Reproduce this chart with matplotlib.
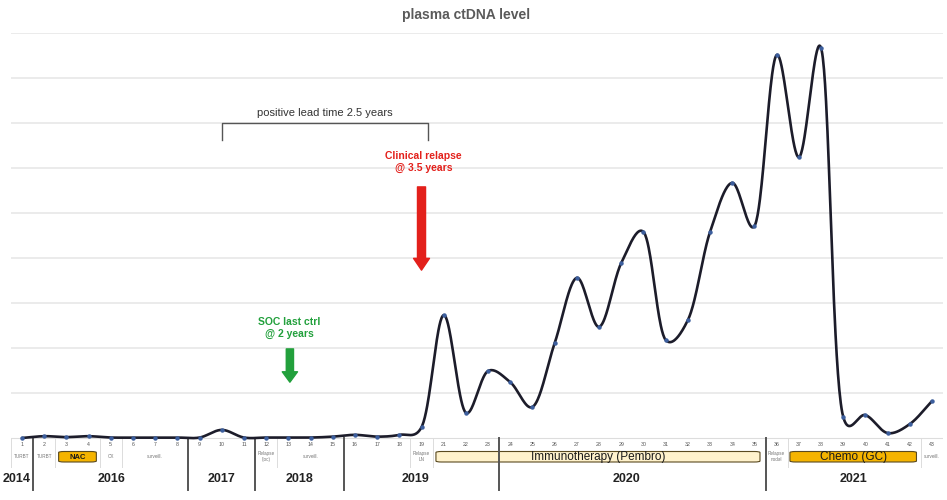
import numpy as np
import matplotlib
matplotlib.use("Agg")
import matplotlib.pyplot as plt
from matplotlib.patches import FancyBboxPatch

plt.rcParams['font.family'] = ['Liberation Sans', 'DejaVu Sans']

# ---------------- data ----------------
point_labels = list(range(1, 20)) + list(range(21, 44))
ctdna = [0.0, 0.04, 0.02, 0.04, 0.01, 0.01, 0.01, 0.01, 0.01, 0.18,
         0.01, 0.01, 0.01, 0.01, 0.03, 0.07, 0.03, 0.07, 0.24, 2.73,
         0.56, 1.49, 1.24, 0.69, 2.11, 3.56, 2.47, 3.89, 4.58, 2.18,
         2.62, 4.58, 5.67, 4.71, 8.51, 6.24, 8.67, 0.47, 0.51, 0.11,
         0.31, 0.82]
years = ["2014", "2016", "2017", "2018", "2019", "2020", "2021"]
year_pos = [0.75, 5.05, 10.0, 13.5, 18.75, 28.25, 38.45]
year_breaks = [1.5, 8.5, 11.5, 15.5, 22.5, 34.5]
cell_breaks = [0.5, 2.5, 4.5, 5.5, 12.5, 18.5, 19.5, 35.5, 41.5, 42.5]
event_text = ["TURBT", "TURBT", "CX", "surveill.", "Relapse\n(loc)", "surveill.",
              "Relapse\nLN", "Relapse\nnodal", "surveill."]
event_pos = [1, 2, 5, 7, 12, 14, 19, 35, 42]
therapy_names = ["NAC", "Immunotherapy (Pembro)", "Chemo (GC)"]
therapy_start = [2.65, 19.65, 35.6]
therapy_end = [4.35, 34.25, 41.3]
therapy_colors = ["#F5B400", "#FFF2CC", "#F5B400"]

x = np.arange(1, len(ctdna) + 1)


def smooth_curve(xs, ys, yscale=2.03, alpha=0.22, n=40):
    """Catmull-Rom curve through the points (for drawing only)."""
    P = np.column_stack([np.asarray(xs, float), np.asarray(ys, float) * yscale])
    P = np.vstack([2 * P[0] - P[1], P, 2 * P[-1] - P[-2]])
    out = []
    for k in range(1, len(P) - 2):
        p0, p1, p2, p3 = P[k - 1], P[k], P[k + 1], P[k + 2]
        t0 = 0.0
        t1 = t0 + np.linalg.norm(p1 - p0) ** alpha
        t2 = t1 + np.linalg.norm(p2 - p1) ** alpha
        t3 = t2 + np.linalg.norm(p3 - p2) ** alpha
        t = np.linspace(t1, t2, n, endpoint=False)[:, None]
        a1 = (t1 - t) / (t1 - t0) * p0 + (t - t0) / (t1 - t0) * p1
        a2 = (t2 - t) / (t2 - t1) * p1 + (t - t1) / (t2 - t1) * p2
        a3 = (t3 - t) / (t3 - t2) * p2 + (t - t2) / (t3 - t2) * p3
        b1 = (t2 - t) / (t2 - t0) * a1 + (t - t0) / (t2 - t0) * a2
        b2 = (t3 - t) / (t3 - t1) * a2 + (t - t1) / (t3 - t1) * a3
        c = (t2 - t) / (t2 - t1) * b1 + (t - t1) / (t2 - t1) * b2
        out.append(c)
    out.append(P[-2][None, :])
    C = np.vstack(out)
    return C[:, 0], C[:, 1] / yscale


W, H = 947, 500
fig = plt.figure(figsize=(W / 100, H / 100), dpi=100)

x0, x1 = 0.5, 42.5
px_left, px_right = 10.9, 943.1
left = px_left / W
width = (px_right - px_left) / W

# ---------------- table axes (bottom) ----------------
tab = fig.add_axes([left, 0, width, 63 / H])
tab.set_xlim(x0, x1)
tab.set_ylim(500, 437)
tab.axis("off")

tab.axhline(437.5, color="#dddddd", lw=0.8)
for cb in cell_breaks:
    tab.plot([cb, cb], [437.5, 467], color="#dcdcdc", lw=0.7)
for yb in year_breaks:
    tab.plot([yb, yb], [437.5, 490], color="#555555", lw=1.4)

for xi, lab in zip(x, point_labels):
    tab.text(xi, 444.5, str(lab), ha="center", va="center", fontsize=3.8, color="#555555")
for txt, xi in zip(event_text, event_pos):
    tab.text(xi, 456.5, txt, ha="center", va="center", fontsize=3.3, color="#777777",
             linespacing=1.1)
for name, s, e, c in zip(therapy_names, therapy_start, therapy_end, therapy_colors):
    box = FancyBboxPatch((s, 451.5), e - s, 10.5, boxstyle="round,pad=0,rounding_size=0.25",
                         facecolor=c, edgecolor="#5a4a20", lw=0.8, mutation_aspect=4)
    tab.add_patch(box)
    fs = 5.5 if name == "NAC" else 8.5
    tab.text((s + e) / 2, 457, name, ha="center", va="center", fontsize=fs,
             color="#1a1a1a", fontweight="bold" if name == "NAC" else "normal")
for yr, xp in zip(years, year_pos):
    tab.text(xp, 478.5, yr, ha="center", va="center", fontsize=9, fontweight="bold",
             color="#222222")

# ---------------- main axes ----------------
y_lo, y_hi = -0.25, 9.0
bottom_px = 438 + 0.25 * 45
ax = fig.add_axes([left, (H - bottom_px) / H, width, (bottom_px - 33) / H])
ax.set_facecolor("none")
ax.set_xlim(x0, x1)
ax.set_ylim(y_lo, y_hi)
for s in ax.spines.values():
    s.set_visible(False)
ax.set_xticks([])
ax.set_yticks([])
for g in range(1, 10):
    ax.axhline(g, color="#e8e8e8", lw=1.2, zorder=0)

sx, sy = smooth_curve(x, ctdna)
ax.plot(sx, sy, color="#1c1c2a", lw=1.9, zorder=3, clip_on=False, solid_capstyle="round")
ax.plot(x, ctdna, "o", ms=2.2, color="#3d5f9e", zorder=4, clip_on=False)

fig.text(0.492, 1 - 15 / H, "plasma ctDNA level", ha="center", va="center",
         fontsize=10, fontweight="bold", color="#5a5a5a")

# bracket: positive lead time
bx0, bx1 = 10.0, 19.3
ax.plot([bx0, bx0, bx1, bx1], [6.62, 7.0, 7.0, 6.62], color="#555555", lw=1.0)
ax.text((bx0 + bx1) / 2, 7.22, "positive lead time 2.5 years", ha="center", va="center",
        fontsize=8, color="#333333")

# clinical relapse
red = "#E3201B"
ax.text(19.1, 6.14, "Clinical relapse\n@ 3.5 years", ha="center", va="center",
        fontsize=7.5, fontweight="bold", color=red, linespacing=1.25)
ax.annotate("", xy=(19.0, 3.73), xytext=(19.0, 5.58),
            arrowprops=dict(arrowstyle="simple,head_length=8.5,head_width=11.5,tail_width=5.8",
                            color=red, mutation_scale=1, shrinkA=0, shrinkB=0))

# SOC last control
green = "#22A03C"
ax.text(13.05, 2.45, "SOC last ctrl\n@ 2 years", ha="center", va="center",
        fontsize=7.5, fontweight="bold", color=green, linespacing=1.25)
ax.annotate("", xy=(13.07, 1.24), xytext=(13.07, 1.98),
            arrowprops=dict(arrowstyle="simple,head_length=7.5,head_width=11,tail_width=5.2",
                            color=green, mutation_scale=1, shrinkA=0, shrinkB=0))

fig.savefig("out.png", dpi=100)
